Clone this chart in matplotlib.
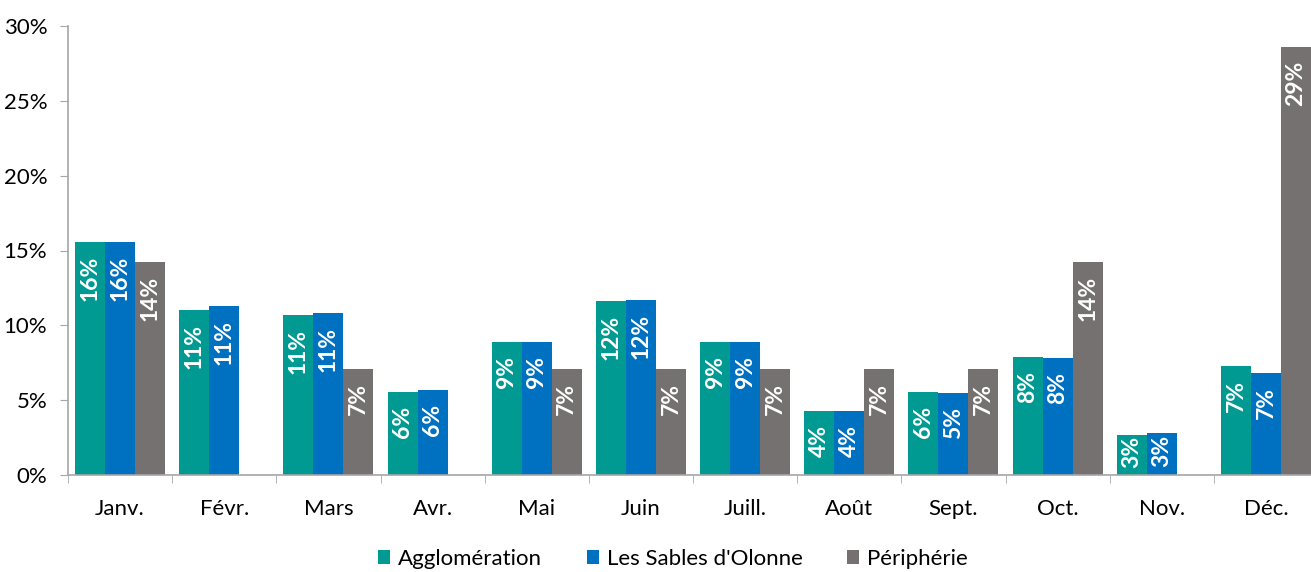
import matplotlib
matplotlib.use("Agg")
import matplotlib.pyplot as plt
import numpy as np

# monthly share of each area (%)
months = ["Janv.", "Févr.", "Mars", "Avr.", "Mai", "Juin",
          "Juill.", "Août", "Sept.", "Oct.", "Nov.", "Déc."]
agglo = [15.6, 11.0, 10.7, 5.55, 8.9, 11.6, 8.9, 4.3, 5.52, 7.9, 2.7, 7.3]
sables = [15.6, 11.3, 10.8, 5.65, 8.9, 11.7, 8.9, 4.3, 5.46, 7.8, 2.8, 6.8]
peri = [14.2, 0.0, 7.1, 0.0, 7.1, 7.1, 7.1, 7.1, 7.1, 14.2, 0.0, 28.6]

series = [
    ("Agglomération", agglo, "#009A93"),
    ("Les Sables d'Olonne", sables, "#0070C0"),
    ("Périphérie", peri, "#767171"),
]
yticks = [0, 5, 10, 15, 20, 25, 30]

plt.rcParams["font.family"] = ["Lato", "DejaVu Sans"]

fig = plt.figure(figsize=(13.11, 5.72), dpi=100)
ax = fig.add_axes([68 / 1311, 97 / 572, 1250 / 1311, 449 / 572])

x = np.arange(len(months))
width = 0.288
for i, (name, vals, color) in enumerate(series):
    pos = x + (i - 1) * width
    ax.bar(pos, vals, width=width, color=color, label=name, zorder=2)
    for px, v in zip(pos, vals):
        if v <= 0:
            continue
        # short bars: keep the label tight against the top
        pad = -10 if v > 4 else -1
        ax.annotate(f"{v:.0f}%", (px, v), xytext=(0, pad),
                    textcoords="offset points", rotation=90,
                    ha="center", va="top", color="white",
                    fontsize=16.5, fontweight="bold")

ax.set_xlim(-0.5, len(months) - 0.5)
ax.set_ylim(0, 30)
ax.set_yticks(yticks)
ax.set_yticklabels([f"{t}%" for t in yticks], fontsize=16)

ax.set_xticks(x)
ax.set_xticklabels(months, fontsize=16)
ax.set_xticks(np.arange(len(months) + 1) - 0.5, minor=True)
ax.tick_params(axis="x", which="major", length=0, pad=17)
ax.tick_params(axis="x", which="minor", length=6, color="#a6a6a6")
ax.tick_params(axis="y", length=6, color="#a6a6a6", pad=9)

for side in ["top", "right"]:
    ax.spines[side].set_visible(False)
for side in ["left", "bottom"]:
    ax.spines[side].set_color("#a6a6a6")
    ax.spines[side].set_linewidth(1.2)

fig.legend(loc="center", bbox_to_anchor=(673 / 1311, 13 / 572), ncol=3,
           frameon=False, fontsize=16, handlelength=0.55, handleheight=0.55,
           handletextpad=0.35, columnspacing=2.0)

fig.savefig("out.png", dpi=100)
plt.close(fig)
